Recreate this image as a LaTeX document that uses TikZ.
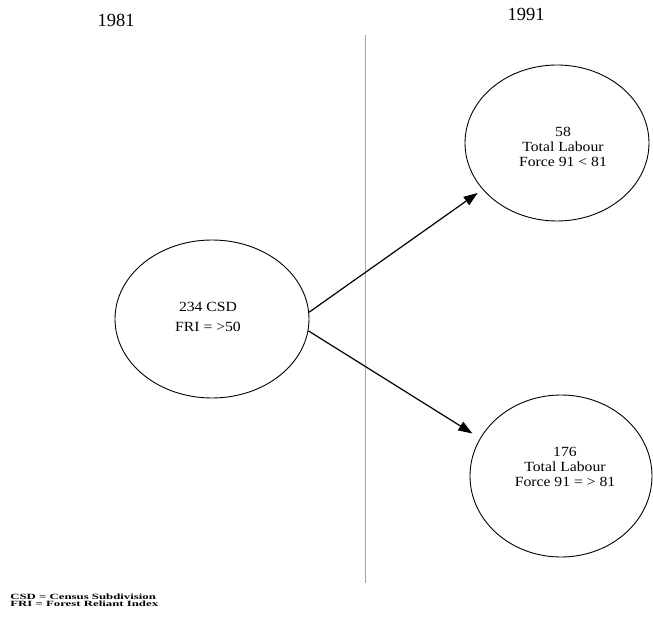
\documentclass[tikz,border=0pt]{standalone}
\usepackage{fontspec}
\setmainfont{Liberation Serif}
\usetikzlibrary{shapes.geometric,arrows.meta}
\begin{document}
\begin{tikzpicture}[x=1pt,y=-1pt,
  oval/.style={draw, ellipse, line width=0.9pt, inner sep=0pt, align=center},
  flow/.style={line width=1.2pt, -{Triangle[length=14pt,width=10pt]}},
  year/.style={font=\fontsize{18.5}{20}\selectfont},
  etext/.style={font=\fontsize{14}{15}\selectfont, align=center, inner sep=0pt, xscale=1.12},
  legend/.style={font=\bfseries\fontsize{8}{7.5}\selectfont, align=left, anchor=west, inner sep=0pt, xscale=1.6},
  divider/.style={draw=black!35, line width=0.7pt}]
\useasboundingbox (0,0) rectangle (653,617);
% years
\node[year] (y81) at (116,20) {1981};
\node[year] (y91) at (526,14) {1991};
% divider
\coordinate (vt) at (365,35);
\coordinate (vb) at (365,583);
\draw[divider] (vt) -- (vb);
% ellipses
\node[oval, minimum width=194pt, minimum height=158pt] (L) at (212,319) {};
\node[oval, minimum width=184pt, minimum height=156pt] (TR) at (557,143) {};
\node[oval, minimum width=182pt, minimum height=162pt] (BR) at (561,476) {};
% texts
\node[etext, font=\fontsize{14}{20}\selectfont] (tL) at (208,317) {234 CSD\\FRI = >50};
\node[etext] (tTR) at (563,147) {58\\Total Labour\\Force 91 < 81};
\node[etext] (tBR) at (565,467) {176\\Total Labour\\Force 91 = > 81};
% arrows
\draw[flow, shorten >=6pt] (L.4) -- (TR.212);
\draw[flow, shorten >=9pt] (L.-7) -- (BR.155);
% legend
\node[legend] (leg) at (10,600.5) {CSD = Census Subdivision\\FRI = Forest Reliant Index};
\end{tikzpicture}
\end{document}
